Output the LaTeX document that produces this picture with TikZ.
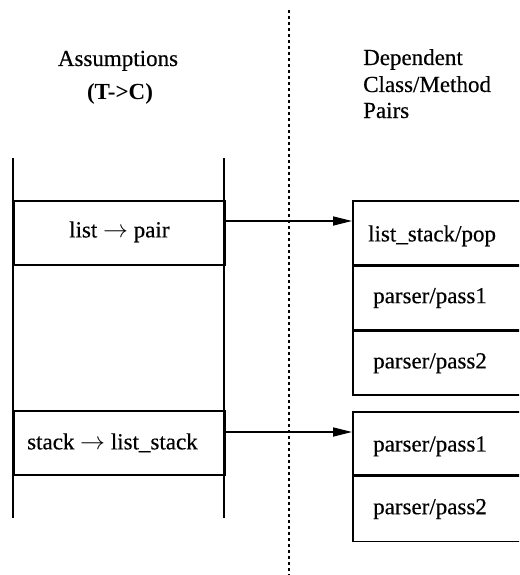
\documentclass[tikz,border=0pt]{standalone}
\usepackage{fontspec}
\setmainfont{Liberation Serif}
\newfontfamily\tms[FakeBold=0.35]{Liberation Serif}
\usetikzlibrary{arrows.meta}
\begin{document}
\begin{tikzpicture}[x=1pt,y=-1pt,
  lw/.style={line width=1.7pt},
  cell/.style={draw, lw, rectangle, inner sep=0pt, anchor=north west},
  lcell/.style={cell, minimum width=211pt, minimum height=64pt},
  rcell/.style={cell, minimum width=220pt},
  lbl/.style={font=\tms\fontsize{23}{27}\selectfont, inner sep=0pt},
  arr/.style={lw, -{Triangle[length=19pt,width=9pt]}},
  sep/.style={lw, dash pattern=on 3pt off 3pt},
]
\useasboundingbox (0,0) rectangle (519,575);
\clip (0,0) rectangle (519,575);
% headers
\node[lbl, anchor=base] (hA) at (118,66) {Assumptions};
\node[lbl, anchor=base, font=\fontsize{23}{27}\selectfont\bfseries] (hT) at (120,100) {(T->C)};
\node[lbl, anchor=base west] (hD1) at (363,65) {Dependent};
\node[lbl, anchor=base west] (hD2) at (363,92) {Class/Method};
\node[lbl, anchor=base west] (hD3) at (363,118) {Pairs};
% separator
\coordinate (st) at (289,10);
\coordinate (sb) at (289,575);
\draw[sep] (st) -- (sb);
% left column
\draw[lw] (13,158) -- (13,518);
\draw[lw] (224,158) -- (224,518);
\node[lcell] (la) at (13,200) {};
\node[lcell] (lb) at (13,410) {};
\node[lbl, yshift=1pt] (lat) at (la.center) {list $\rightarrow$ pair};
\node[lbl, anchor=west] (lbt) at (lb.west -| 27,0) {stack $\rightarrow$ list\_stack};
% right column
\node[rcell, minimum height=64pt] (r1a) at (352,200) {};
\node[rcell, minimum height=63pt] (r1b) at (r1a.south west) {};
\node[rcell, minimum height=64pt] (r1c) at (r1b.south west) {};
\node[rcell, minimum height=63pt] (r2a) at (352,411) {};
\node[rcell, minimum height=65pt] (r2b) at (r2a.south west) {};
\node[lbl, anchor=west] (r1at) at ([xshift=16pt,yshift=-3pt]r1a.west) {list\_stack/pop};
\node[lbl, anchor=west] (r1bt) at ([xshift=21pt]r1b.west) {parser/pass1};
\node[lbl, anchor=west] (r1ct) at ([xshift=21pt]r1c.west) {parser/pass2};
\node[lbl, anchor=west] (r2at) at ([xshift=21pt,yshift=-3pt]r2a.west) {parser/pass1};
\node[lbl, anchor=west] (r2bt) at ([xshift=21pt]r2b.west) {parser/pass2};
% connectors
\draw[arr] (la.east |- 0,221) -- (r1a.west |- 0,221);
\draw[arr] (lb.east |- 0,432) -- (r2a.west |- 0,432);
\end{tikzpicture}
\end{document}
